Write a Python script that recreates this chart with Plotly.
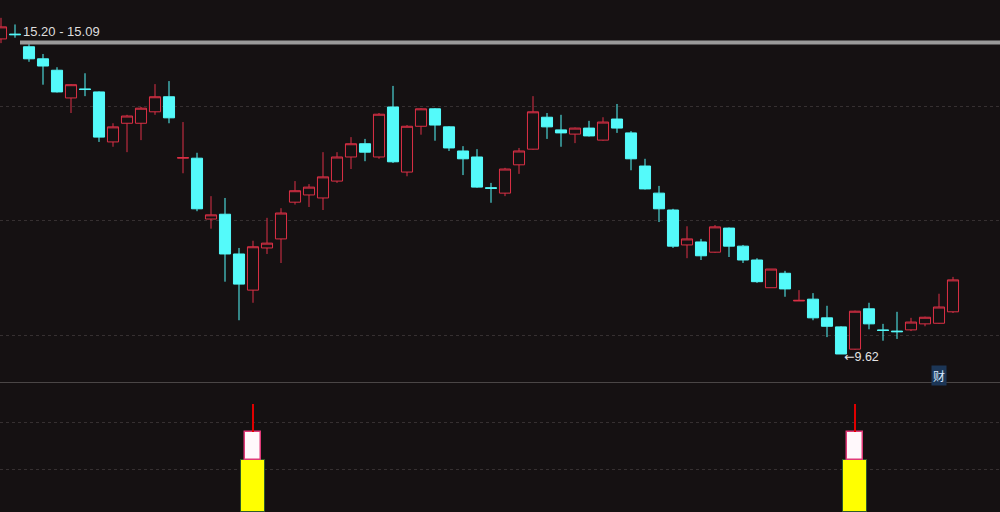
import plotly.graph_objects as go

# ---- data: daily candles (index = trading day) ----
day_index = list(range(69))
opens = [14.85, 14.93, 14.72, 14.52, 14.33, 13.87, 14.02, 13.97, 13.14, 13.45,
         13.45, 13.64, 13.89, 12.87, 12.87, 11.86, 11.94, 11.28, 10.68, 11.38,
         11.53, 12.14, 12.26, 12.21, 12.49, 12.89, 13.11, 12.89, 13.72, 12.64,
         13.40, 13.69, 13.39, 12.99, 12.89, 12.38, 12.29, 12.76, 13.02, 13.55,
         13.34, 13.27, 13.37, 13.17, 13.52, 13.29, 12.74, 12.29, 12.01, 11.43,
         11.48, 11.31, 11.71, 11.41, 11.18, 10.72, 10.96, 10.50, 10.53, 10.22,
         10.07, 9.70, 10.37, 10.02, 10.00, 10.02, 10.12, 10.13, 10.32]
highs = [15.20, 15.09, 14.78, 14.60, 14.38, 14.10, 14.28, 13.98, 13.45, 13.59,
         13.72, 14.10, 14.15, 13.47, 12.96, 12.24, 12.21, 11.38, 11.50, 11.88,
         12.04, 12.49, 12.44, 12.97, 12.97, 13.22, 13.19, 13.62, 14.07, 13.42,
         13.70, 13.70, 13.40, 13.07, 13.02, 12.46, 12.71, 13.04, 13.90, 13.62,
         13.59, 13.38, 13.49, 13.55, 13.77, 13.32, 12.86, 12.41, 12.03, 11.74,
         11.53, 11.76, 11.72, 11.43, 11.21, 11.03, 11.00, 10.68, 10.63, 10.42,
         10.08, 10.34, 10.47, 10.12, 10.32, 10.22, 10.24, 10.62, 10.90]
lows = [14.78, 14.87, 14.47, 14.09, 13.96, 13.62, 13.90, 13.14, 13.06, 12.97,
        13.17, 13.59, 13.45, 12.62, 11.99, 11.70, 10.82, 10.18, 10.47, 11.28,
        11.13, 12.10, 12.06, 12.01, 12.46, 12.69, 12.82, 12.86, 12.79, 12.57,
        13.26, 13.16, 12.99, 12.59, 12.38, 12.13, 12.24, 12.61, 13.01, 13.19,
        13.06, 13.12, 13.23, 13.16, 13.29, 12.67, 12.35, 11.81, 11.38, 11.21,
        11.18, 11.30, 11.23, 11.13, 10.80, 10.72, 10.57, 10.50, 10.18, 9.90,
        9.62, 9.69, 10.03, 9.84, 9.87, 10.00, 10.08, 10.12, 10.30]
closes = [15.05, 14.92, 14.52, 14.40, 13.97, 14.09, 14.01, 13.22, 13.39, 13.57,
          13.70, 13.89, 13.54, 12.88, 12.03, 11.93, 11.28, 10.78, 11.40, 11.46,
          11.96, 12.33, 12.39, 12.56, 12.89, 13.11, 12.97, 13.60, 12.81, 13.40,
          13.69, 13.42, 13.04, 12.86, 12.39, 12.37, 12.69, 12.99, 13.64, 13.39,
          13.29, 13.37, 13.24, 13.47, 13.37, 12.86, 12.36, 12.03, 11.41, 11.53,
          11.25, 11.73, 11.41, 11.18, 10.82, 11.03, 10.70, 10.51, 10.22, 10.08,
          9.62, 10.33, 10.12, 10.01, 9.99, 10.15, 10.23, 10.40, 10.85]

# main-panel grid levels
price_grid = [9.92, 11.84, 13.72]

# lower indicator panel: signal days and stacked levels
signal_days = [18, 61]
yellow_top = [40, 40]
white_top = [62, 62]
red_top = [84, 84]
indicator_grid = [33, 69]

BG = "#151112"
RED = "#dc3046"
CYAN = "#54fafa"

fig = go.Figure()

fig.add_trace(go.Candlestick(
    x=day_index, open=opens, high=highs, low=lows, close=closes,
    increasing=dict(line=dict(color=RED, width=1), fillcolor=BG),
    decreasing=dict(line=dict(color=CYAN, width=1), fillcolor=CYAN),
    showlegend=False, hoverinfo="skip",
    xaxis="x", yaxis="y",
))

# lower panel stacked bars
fig.add_trace(go.Bar(
    x=signal_days, y=yellow_top, base=[0] * len(signal_days), width=1.78,
    marker=dict(color="#ffff00", line=dict(color="#2e5a2a", width=1)),
    showlegend=False, hoverinfo="skip", xaxis="x", yaxis="y2",
))
fig.add_trace(go.Bar(
    x=signal_days, y=[w - y for w, y in zip(white_top, yellow_top)], base=yellow_top,
    width=1.08,
    marker=dict(color="#fff8fb", line=dict(color="#e03a78", width=1.5)),
    showlegend=False, hoverinfo="skip", xaxis="x", yaxis="y2",
))
fig.add_trace(go.Bar(
    x=signal_days, y=[r - w for r, w in zip(red_top, white_top)], base=white_top,
    width=0.2,
    marker=dict(color="#e00000", line=dict(width=0)),
    showlegend=False, hoverinfo="skip", xaxis="x", yaxis="y2",
))

sep = 1 - 382.5 / 512

fig.update_layout(
    width=1000, height=512,
    margin=dict(l=0, r=0, t=0, b=0),
    paper_bgcolor=BG, plot_bgcolor=BG,
    barmode="overlay", bargap=0,
    boxgap=0.1, boxgroupgap=0.12,
    xaxis=dict(range=[-1 / 14, 999 / 14], showgrid=False, zeroline=False,
               showticklabels=False, showline=False, ticks="",
               rangeslider=dict(visible=False), anchor="y2"),
    yaxis=dict(domain=[1 - 382 / 512, 1], range=[9.155, 15.496],
               tickvals=price_grid, showticklabels=False, ticks="",
               showgrid=True, gridcolor="#363031", griddash="dot", gridwidth=1,
               zeroline=False, showline=False),
    yaxis2=dict(domain=[0, 129 / 512], range=[0, 100],
                tickvals=indicator_grid, showticklabels=False, ticks="",
                showgrid=True, gridcolor="#363031", griddash="dot", gridwidth=1,
                zeroline=False, showline=False),
    font=dict(family="Liberation Sans, Arial, sans-serif"),
    shapes=[
        dict(type="line", xref="paper", yref="paper", x0=0.02, x1=1,
             y0=1 - 42.5 / 512, y1=1 - 42.5 / 512,
             line=dict(color="#9a9a9a", width=4)),
        dict(type="line", xref="paper", yref="paper", x0=0, x1=1,
             y0=sep, y1=sep, line=dict(color="#4a4646", width=1)),
    ],
    annotations=[
        dict(text="15.20 - 15.09", xref="paper", yref="paper",
             x=0.021, y=1 - 31 / 512, xanchor="left", yanchor="middle",
             showarrow=False, font=dict(size=13, color="#dedede")),
        dict(text="<span style='font-family:DejaVu Sans'>←</span>9.62",
             xref="x", yref="y", x=60.05, y=9.62,
             xanchor="left", yanchor="middle", yshift=-3,
             showarrow=False, font=dict(size=12.5, color="#e4e4e4")),
        dict(text="财", xref="paper", yref="paper",
             x=0.939, y=1 - 375 / 512, xanchor="center", yanchor="middle",
             showarrow=False, bgcolor="#1c3656", borderpad=1,
             font=dict(size=12, color="#d8e8ff",
                       family="Noto Sans CJK SC, sans-serif")),
    ],
)

fig.write_html("out.html",
               config={"displayModeBar": False},
               post_script="document.body.style.margin='0';"
                           "document.body.style.background='#151112';")
